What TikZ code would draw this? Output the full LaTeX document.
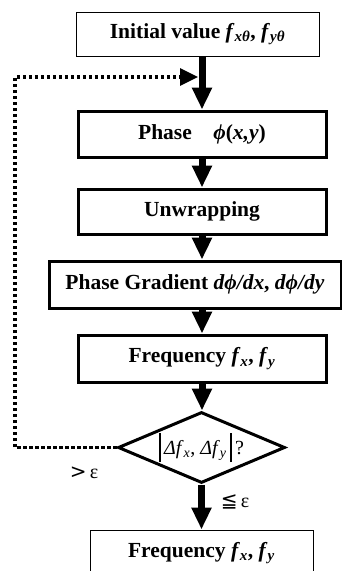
\documentclass[tikz,border=0pt]{standalone}
\usepackage{fontspec}
\setmainfont{Liberation Serif}
\newfontfamily\symfont{DejaVu Sans}
\usetikzlibrary{arrows.meta,shapes.geometric}

\newcommand{\fsub}[2]{\textit{#1}\textsubscript{\textit{#2}}}
\newcommand{\tallbar}{\rule[-8pt]{1.8pt}{29pt}}

\begin{document}
\begin{tikzpicture}[x=1pt,y=-1pt,
  boxtext/.style={font=\bfseries\fontsize{21.5}{22}\selectfont,inner sep=0pt},
  thinbox/.style={boxtext,draw,line width=1pt},
  thickbox/.style={boxtext,draw,line width=3pt},
  decision/.style={draw,diamond,line width=3pt,inner sep=0pt,minimum width=167pt,minimum height=71pt},
  flow/.style={line width=7pt,-{Triangle[width=19pt,length=22pt]}},
  back/.style={line width=3.3pt,dash pattern=on 3.3pt off 2.7pt,-{Triangle[width=17pt,length=18pt]}}]
\clip (0,0) rectangle (342,571);
\node[thinbox,minimum width=243pt,minimum height=44pt] (init) at (197.5,34) {Initial value \fsub{f}{xθ}, \fsub{f}{yθ}};
\node[thickbox,minimum width=248pt,minimum height=46pt] (phase) at (202,134) {Phase\quad\textit{ϕ}(\textit{x,y})};
\node[thickbox,minimum width=248pt,minimum height=45pt] (unwrap) at (202,211.5) {Unwrapping};
\node[thickbox,minimum width=292pt,minimum height=47pt] (grad) at (195,284.5) {Phase Gradient \textit{dϕ/dx}, \textit{dϕ/dy}};
\node[thickbox,minimum width=248pt,minimum height=47pt] (freq) at (202,358.5) {Frequency \fsub{f}{x}, \fsub{f}{y}};
\node[decision] (dia) at (201.5,447.5) {};
\node[font=\fontsize{20}{20}\selectfont,inner sep=0pt] (test) at (dia.center) {\tallbar\,\textit{Δf}\textsubscript{\textit{x}}, \textit{Δf}\textsubscript{\textit{y}}\,\tallbar\,?};
\node[thinbox,minimum width=223pt,minimum height=46pt] (result) at (201.5,553) {Frequency \fsub{f}{x}, \fsub{f}{y}};
\node[font=\fontsize{20}{20}\selectfont] (gt) at (84,473) {{\symfont >}\,ε};
\node[font=\fontsize{20}{20}\selectfont] (le) at (235,502) {{\symfont ≦}\,ε};
\coordinate (merge) at (198,77);
\draw[flow] (init.south -| phase.north) -- (phase.north);
\draw[flow] (phase) -- (unwrap);
\draw[flow] (unwrap.south) -- (unwrap.south |- grad.north);
\draw[flow] (grad.south -| freq.north) -- (freq.north);
\draw[flow] (freq.south) -- (freq.south |- dia.north);
\draw[flow] (dia.south) -- (dia.south |- result.north);
\draw[back] (dia.west) -- (15,447.5) -- (15,77) -- (merge);
\end{tikzpicture}
\end{document}
